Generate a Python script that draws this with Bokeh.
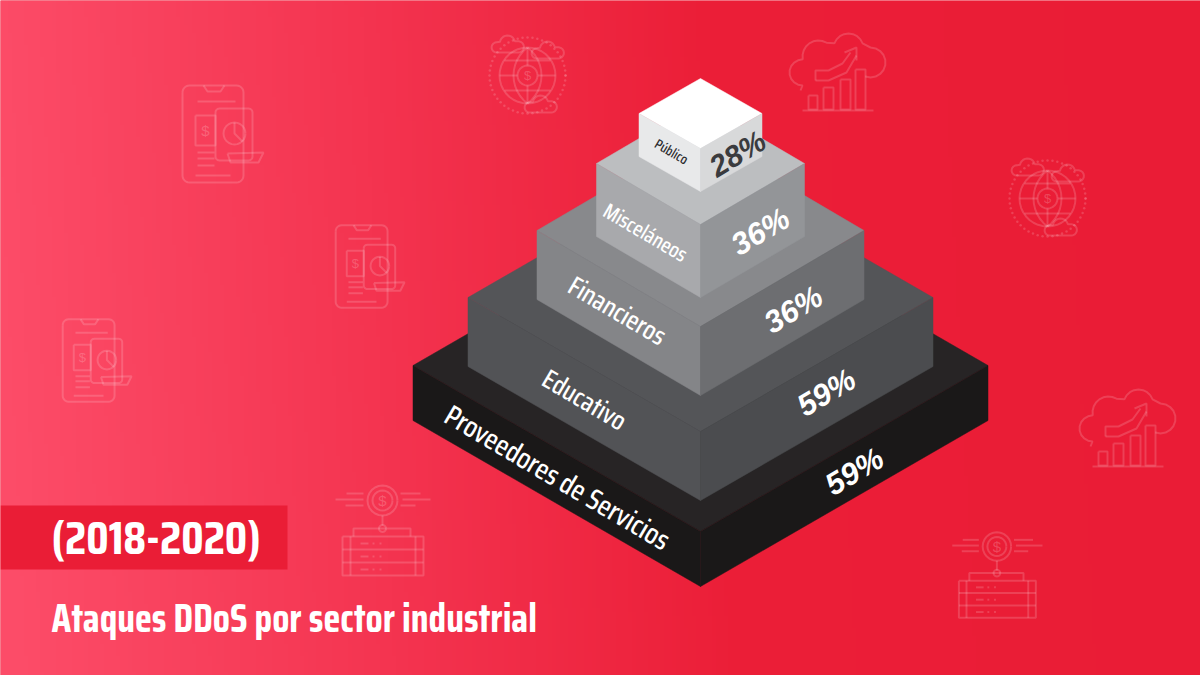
import math
import numpy as np
from bokeh.plotting import figure
from bokeh.models import Range1d
from bokeh.core.properties import value
from bokeh.embed import file_html
from bokeh.resources import INLINE

# ---- chart content ----
sectors = ["Público", "Misceláneos", "Financieros", "Educativo", "Proveedores de Servicios"]
percents = [28, 36, 36, 59, 59]
period = "(2018-2020)"
title = "Ataques DDoS por sector industrial"

# ---- isometric tier geometry (top tier first) ----
CX = 700
tier_half = [61.5, 104, 163.5, 232.5, 287.5]
tier_side_y = [113, 163, 230, 297, 365]
tier_front_y = [148, 224, 326, 431, 531]
tier_h = [43, 73, 69, 69, 55]
tier_top = ["#ffffff", "#bcbec0", "#88898c", "#545558", "#272425"]
tier_left = ["#e8e9ea", "#a8a9ac", "#848588", "#525356", "#1a1818"]
tier_right = ["#d8d9da", "#939598", "#6d6e71", "#4b4c4f", "#1a1818"]
label_pos = [(671, 151), (645, 232), (617, 310), (584, 399), (557, 477)]
label_size = [14, 21.5, 27, 27, 29]
label_col = ["#2b2b2e", "#ffffff", "#ffffff", "#ffffff", "#ffffff"]
pct_pos = [(737, 153), (760, 231), (793, 309), (826, 392), (854, 471)]
pct_size = [30, 31, 31, 31, 31]
pct_col = ["#3a3b3e", "#ffffff", "#ffffff", "#ffffff", "#ffffff"]
head_font = "'Saira Condensed', Roboto, sans-serif"
label_font = "'Saira Condensed Medium', 'Saira Condensed', Roboto, sans-serif"

W, H = 1200, 675
p = figure(width=W, height=H, output_backend="svg", toolbar_location=None,
           x_range=Range1d(0, 1200), y_range=Range1d(675, 0), min_border=0)
p.axis.visible = False
p.grid.visible = False
p.outline_line_color = None
p.background_fill_color = "#ea1c36"

# ---- background gradient ----
stops_x = [0, 400, 720, 1200]
stops_c = np.array([[252, 76, 104], [243, 50, 78], [235, 30, 55], [234, 28, 54]], float)
nx, ny = 300, 169
xs = np.linspace(0, 1200, nx)
ys = np.linspace(0, 675, ny)
gx, gy = np.meshgrid(xs, ys)
g = gx - 0.05 * (gy - 330)
img = np.zeros((ny, nx), dtype=np.uint32)
view = img.view(dtype=np.uint8).reshape((ny, nx, 4))
for k in range(3):
    view[:, :, k] = np.interp(g, stops_x, stops_c[:, k]).round().astype(np.uint8)
view[:, :, 3] = 255
p.image_rgba(image=[img], x=0, y=0, dw=1200, dh=675)


# ---- decorative icons ----
def arc(cx, cy, r, a0, a1, n=24):
    return [(cx + r * math.cos(math.radians(a0 + (a1 - a0) * i / n)),
             cy + r * math.sin(math.radians(a0 + (a1 - a0) * i / n))) for i in range(n + 1)]


def rect(x0, y0, x1, y1):
    return [(x0, y0), (x1, y0), (x1, y1), (x0, y1), (x0, y0)]


def rrect(x0, y0, x1, y1, r):
    return (arc(x0 + r, y0 + r, r, 180, 270, 6) + arc(x1 - r, y0 + r, r, 270, 360, 6) +
            arc(x1 - r, y1 - r, r, 0, 90, 6) + arc(x0 + r, y1 - r, r, 90, 180, 6) +
            [(x0, y0 + r)])


def cloud(x0, x1, yb, h):
    w = x1 - x0
    return ([(x0 + .2 * w, yb)] + arc(x0 + .2 * w, yb - .3 * h, .3 * h, 90, 250, 8) +
            arc(x0 + .5 * w, yb - .55 * h, .45 * h, 190, 345, 10) +
            arc(x1 - .2 * w, yb - .33 * h, .33 * h, 260, 450, 10) + [(x0 + .2 * w, yb)])


phone = [rrect(12, 15, 73, 112, 7), [(33, 15), (37, 21), (50, 21), (54, 15)],
         [(27, 31), (65, 31)], rect(25, 45, 45, 75), rrect(45, 38, 82, 90, 4),
         arc(64, 63, 11, 0, 360), [(64, 52), (64, 63), (72, 71)],
         [(57, 83), (93, 82), (88, 92), (60, 92), (57, 83)],
         [(27, 82), (44, 82)], [(27, 88), (44, 88)], [(27, 95), (44, 95)], [(25, 105), (60, 105)]]
chart = [rect(28, 65, 37, 79), rect(43, 57, 53, 79), rect(60, 49, 70, 79), rect(75, 39, 85, 79),
         [(22, 80), (93, 80)],
         [(20, 60)] + arc(22, 42, 13, 90, 250, 8) + arc(38, 26, 16, 170, 300, 8) +
         arc(68, 18, 15, 200, 340, 8) + arc(90, 32, 15, 270, 470, 10) + [(86, 46)],
         [(35, 50), (35, 40), (48, 40), (62, 33), (70, 22)], [(35, 50), (48, 50), (66, 42), (76, 25)],
         [(64, 22), (76, 17), (76, 30)]]
globe = [arc(47, 45, 28, 0, 360, 36), arc(47, 45, 10, 0, 360),
         [(19, 45), (37, 45)], [(57, 45), (75, 45)], [(47, 17), (47, 35)], [(47, 55), (47, 73)],
         [(24, 30), (70, 30)], [(24, 60), (70, 60)],
         arc(68, 45, 35, 127, 233, 12), arc(26, 45, 35, -53, 53, 12),
         cloud(9, 45, 22, 17), cloud(49, 85, 28, 17), cloud(42, 78, 82, 17)]
server = [arc(52, 20, 15, 0, 360), arc(52, 20, 10, 0, 360), arc(52, 48, 3.5, 0, 360),
          [(52, 35), (52, 45)], [(16, 13), (33, 13)], [(5, 19), (33, 19)], [(15, 25), (33, 25)],
          [(70, 13), (90, 13)], [(72, 19), (100, 19)], [(70, 25), (85, 25)],
          [(23, 56), (23, 48), (80, 48), (80, 56)], rect(12, 56, 93, 95),
          [(20, 56), (20, 95)], [(85, 56), (85, 95)], [(12, 69), (93, 69)], [(12, 82), (93, 82)],
          [(30, 63), (38, 63)], [(30, 76), (38, 76)], [(30, 89), (38, 89)],
          [(42, 63), (44, 63)], [(49, 63), (51, 63)], [(42, 76), (44, 76)], [(49, 76), (51, 76)],
          [(42, 89), (44, 89)], [(49, 89), (51, 89)]]

placements = [
    (phone, 170, 70, 1.0, (35, 60), 15), (phone, 325, 212, .85, (35, 60), 13), (phone, 52, 306, .85, (35, 60), 13),
    (globe, 480, 30, 1.0, (47, 45), 13), (globe, 1000, 153, 1.0, (47, 45), 13),
    (chart, 780, 30, 1.0, None, 0), (chart, 1070, 386, 1.0, None, 0),
    (server, 330, 480, 1.0, (52, 20), 15), (server, 947, 527, .95, (52, 20), 15),
]
ml_x, ml_y = [], []
for shape, ox, oy, s, dollar, fs in placements:
    for line in shape:
        ml_x.append([ox + s * q[0] for q in line])
        ml_y.append([oy + s * q[1] for q in line])
    if dollar:
        p.text(x=[ox + s * dollar[0]], y=[oy + s * dollar[1]], text=["$"], text_color="#ffffff",
               text_alpha=.2, text_align="center", text_baseline="middle",
               text_font=value("Liberation Sans"), text_font_size=f"{fs}px")
p.multi_line(ml_x, ml_y, line_color="#ffffff", line_alpha=.16, line_width=2)

# dotted rings of the globes
for ox, oy in [(480, 30), (1000, 153)]:
    pts = arc(ox + 47, oy + 45, 38, 0, 360, 48)
    p.scatter([q[0] for q in pts], [q[1] for q in pts], size=2.5, color="#ffffff", alpha=.16, line_color=None)

# ---- pyramid, bottom tier first ----
for i in reversed(range(5)):
    hw, sy, fy, h = tier_half[i], tier_side_y[i], tier_front_y[i], tier_h[i]
    l, r = CX - hw, CX + hw
    by = sy - (fy - sy)
    p.patch([l, CX, r, CX], [sy, by, sy, fy], fill_color=tier_top[i], line_color=tier_top[i], line_width=.5)
    p.patch([l, CX, CX, l], [sy, fy, fy + h, sy + h], fill_color=tier_left[i], line_color=tier_left[i], line_width=.5)
    p.patch([CX, r, r, CX], [fy, sy, sy + h, fy + h], fill_color=tier_right[i], line_color=tier_right[i], line_width=.5)

# ---- tier labels ----
for i, name in enumerate(sectors):
    p.text(x=[label_pos[i][0]], y=[label_pos[i][1]], text=[name], angle=-30.5, angle_units="deg",
           text_align="center", text_baseline="middle", text_color=label_col[i],
           text_font=value(label_font), text_font_style="normal",
           text_font_size=f"{label_size[i]}px")
    p.text(x=[pct_pos[i][0]], y=[pct_pos[i][1]], text=[f"{percents[i]}%"], angle=31, angle_units="deg",
           text_align="center", text_baseline="middle", text_color=pct_col[i],
           text_font=value("Liberation Sans"), text_font_style="bold italic",
           text_font_size=f"{pct_size[i]}px")

# ---- caption ----
p.quad(left=[0], right=[287], top=[505], bottom=[569], fill_color="#ea1d36", line_color=None)
p.text(x=[51], y=[537], text=[period], text_align="left", text_baseline="middle", text_color="#ffffff",
       text_font=value(head_font), text_font_style="bold", text_font_size="47px")
p.text(x=[51], y=[617], text=[title], text_align="left", text_baseline="middle", text_color="#ffffff",
       text_font=value(head_font), text_font_style="bold", text_font_size="39.5px")

open("out.html", "w").write(file_html(p, INLINE))
